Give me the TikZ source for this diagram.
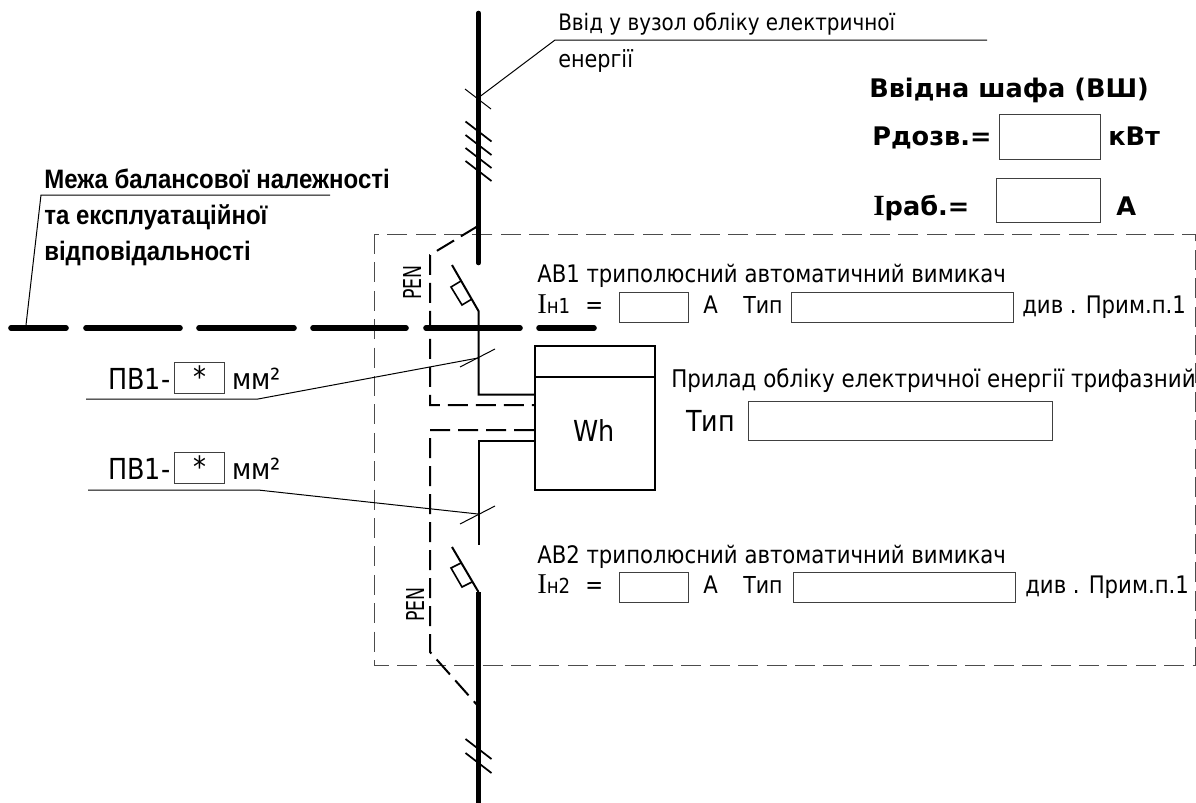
\documentclass[tikz,border=0pt]{standalone}
\usepackage{fontspec}
\setmainfont[FakeStretch=0.88]{DejaVu Sans}
\newfontfamily\headfont{DejaVu Sans}
\newfontfamily\arialb[FakeStretch=0.9]{Liberation Sans Bold}
\newfontfamily\serI{Liberation Serif}
\newcommand{\serIr}{{\serI\fontsize{21.5}{21.5}\selectfont I}}
\newcommand{\narrowpen}{\scalebox{0.8}[1]{PEN}}
\tikzset{
  x=0.75pt,y=-0.75pt,
  thinline/.style={line width=0.75pt,black},
  wire/.style={line width=1.5pt,black},
  busline/.style={line width=3.4pt,black,line cap=round},
  tick/.style={line width=1.3pt,black},
  boundary/.style={line width=4.2pt,black,line cap=round},
  pen/.style={line width=1.5pt,black,dash pattern=on 15pt off 6pt},
  cabinet/.style={line width=0.75pt,black!70,dash pattern=on 15pt off 6.3pt},
  field/.style={draw=black!75,line width=0.75pt,fill=white,inner sep=0pt,anchor=north west},
  lbl/.style={anchor=base west,inner sep=0pt,font=\fontsize{18.1}{18.1}\selectfont},
  biglbl/.style={anchor=base west,inner sep=0pt,font=\fontsize{21.7}{21.7}\selectfont},
  blbl/.style={anchor=base west,inner sep=0pt,font=\headfont\bfseries\fontsize{19.2}{19.2}\selectfont},
  alb/.style={anchor=base west,inner sep=0pt,font=\arialb\fontsize{20}{20}\selectfont},
  penlbl/.style={anchor=base west,inner sep=0pt,rotate=90,font=\fontsize{18.5}{18.5}\selectfont},
}
\begin{document}
\begin{tikzpicture}
\useasboundingbox (0,0) rectangle (1196,803);
% dashed cabinet
\draw[cabinet] (374,234) rectangle (1195,665);
% coordinates
\coordinate (top) at (478.5,13);
\coordinate (busend) at (478.5,263);
\coordinate (sw1open) at (452,265);
\coordinate (sw1fix) at (478.5,311);
\coordinate (m1) at (478.5,394.5);
\coordinate (m2) at (478.5,441);
\coordinate (sw2fixtop) at (478.5,545);
\coordinate (sw2open) at (452,547);
\coordinate (sw2fix) at (478.5,592);
\coordinate (bottom) at (478.5,803);
\coordinate (p1) at (478,226);
\coordinate (p2) at (430,255);
\coordinate (p3) at (430,405);
\coordinate (p5) at (430,430);
\coordinate (p6) at (430,652);
\coordinate (p7) at (478,706);
% meter
\node[draw,line width=1.5pt,inner sep=0pt,minimum width=90pt,minimum height=108pt,anchor=north west] (meter) at (534,345) {};
\coordinate (dl) at (534,377);
\coordinate (dr) at (654,377);
\draw[wire] (dl) -- (dr);
\node[inner sep=0pt,font=\fontsize{21.7}{21.7}\selectfont] (wh) at (594,431) {Wh};
\coordinate (ma) at (534,394.5);
\coordinate (mb) at (534,405);
\coordinate (mc) at (534,430);
\coordinate (md) at (534,441);
% bus and wires
\draw[busline] (top) -- (busend);
\draw[busline,line cap=butt] (sw2fix) -- (bottom);
\draw[wire] (sw1open) -- (sw1fix) -- (m1) -- (ma);
\draw[wire] (md) -- (m2) -- (sw2fixtop);
\draw[wire] (sw2open) -- (sw2fix);
\draw[pen] (p1) -- (p2) -- (p3) -- (mb);
\draw[pen] (mc) -- (p5) -- (p6) -- (p7);
% switch contacts
\draw[wire,line width=1.2pt] (461,281) -- (451,287) -- (462,305) -- (472,299);
\draw[wire,line width=1.2pt] (461,563) -- (451,568) -- (462,587) -- (472,582);
% ticks
\draw[thinline] (465,89) -- (491,109);
\foreach \yy in {121.5,135,148,161}{\draw[tick] (465.5,\yy) -- (491.5,\yy+20);}
\foreach \yy in {739,753}{\draw[tick] (465.5,\yy) -- (491.5,\yy+20);}
\draw[thinline] (460,367) -- (495,349);
\draw[thinline] (460,524) -- (495,506);
% boundary
\foreach \a/\b in {10/67,85/181,198/295,312/407,425/521,538/595}{\draw[boundary] (\a+1,328) -- (\b-1,328);}
% leaders
\draw[thinline] (478,98) -- (555,40) -- (987,40);
\draw[thinline] (26,325) -- (41,195) -- (330,195);
\draw[thinline] (86,399) -- (258,399) -- (478,358);
\draw[thinline] (88,490) -- (258,490) -- (478,514);
% top-right
\node[blbl] (tshafa) at (869,97) {Ввідна шафа (ВШ)};
\node[blbl] (tp) at (872,145) {Рдозв.=};
\node[field,minimum width=75.75pt,minimum height=33.75pt] (fp) at (999,114) {};
\node[blbl] (tkw) at (1108,145) {кВт};
\node[blbl] (ti) at (873,215) {{\serI\bfseries\fontsize{22}{22}\selectfont I}раб.=};
\node[field,minimum width=78pt,minimum height=33pt] (fi) at (996,178) {};
\node[blbl] (ta) at (1116,215) {А};
% labels
\node[lbl,font=\fontsize{17}{17}\selectfont] (tin) at (558,30) {Ввід у вузол обліку електричної};
\node[lbl,font=\fontsize{17.7}{17.7}\selectfont] (tin2) at (558,67) {енергії};
\node[alb] (b1) at (44,188) {Межа балансової належності};
\node[alb] (b2) at (44,224) {та експлуатаційної};
\node[alb] (b3) at (44,260) {відповідальності};
% PEN
\node[penlbl] (pen1) at (421,300) {\narrowpen};
\node[penlbl] (pen2) at (424,622) {\narrowpen};
% PV1
\node[biglbl] (pv1) at (108,389) {ПВ1-};
\node[field,minimum width=37.5pt,minimum height=23.25pt,font=\fontsize{22}{22}\selectfont,text depth=2.5pt] (f1) at (174,362) {*};
\node[biglbl] (mm1) at (232,389) {мм²};
\node[biglbl] (pv2) at (108,479) {ПВ1-};
\node[field,minimum width=37.5pt,minimum height=23.25pt,font=\fontsize{22}{22}\selectfont,text depth=2.5pt] (f2) at (174,452) {*};
\node[biglbl] (mm2) at (232,479) {мм²};
% AB1
\node[lbl] (ab1) at (537,282) {АВ1 триполюсний автоматичний вимикач};
\node[lbl] (i1) at (537,313) {\serIr{\fontsize{15.5}{15.5}\selectfont н1}};
\node[lbl] (eq1) at (585,313) {=};
\node[field,minimum width=51.75pt,minimum height=22.5pt] (f3) at (619,292) {};
\node[lbl] (a1) at (703,313) {А};
\node[lbl,font=\fontsize{17.5}{17.5}\selectfont] (tip1) at (743,313) {Тип};
\node[field,minimum width=166.5pt,minimum height=22.5pt] (f4) at (791,292) {};
\node[lbl] (d1) at (1022,313) {див . Прим.п.1};
% meter text
\node[lbl,font=\fontsize{18.25}{18.25}\selectfont] (pr) at (671,387) {Прилад обліку електричної енергії трифазний};
\node[biglbl] (tip0) at (686,431) {Тип};
\node[field,minimum width=228pt,minimum height=29.25pt] (f5) at (748,401) {};
% AB2
\node[lbl] (ab2) at (537,563) {АВ2 триполюсний автоматичний вимикач};
\node[lbl] (i2) at (537,593) {\serIr{\fontsize{15.5}{15.5}\selectfont н2}};
\node[lbl] (eq2) at (585,593) {=};
\node[field,minimum width=51.75pt,minimum height=22.5pt] (f6) at (619,572) {};
\node[lbl] (a2) at (703,593) {А};
\node[lbl,font=\fontsize{17.5}{17.5}\selectfont] (tip2) at (743,593) {Тип};
\node[field,minimum width=166.5pt,minimum height=22.5pt] (f7) at (793,572) {};
\node[lbl] (d2) at (1025,593) {див . Прим.п.1};
\end{tikzpicture}
\end{document}
